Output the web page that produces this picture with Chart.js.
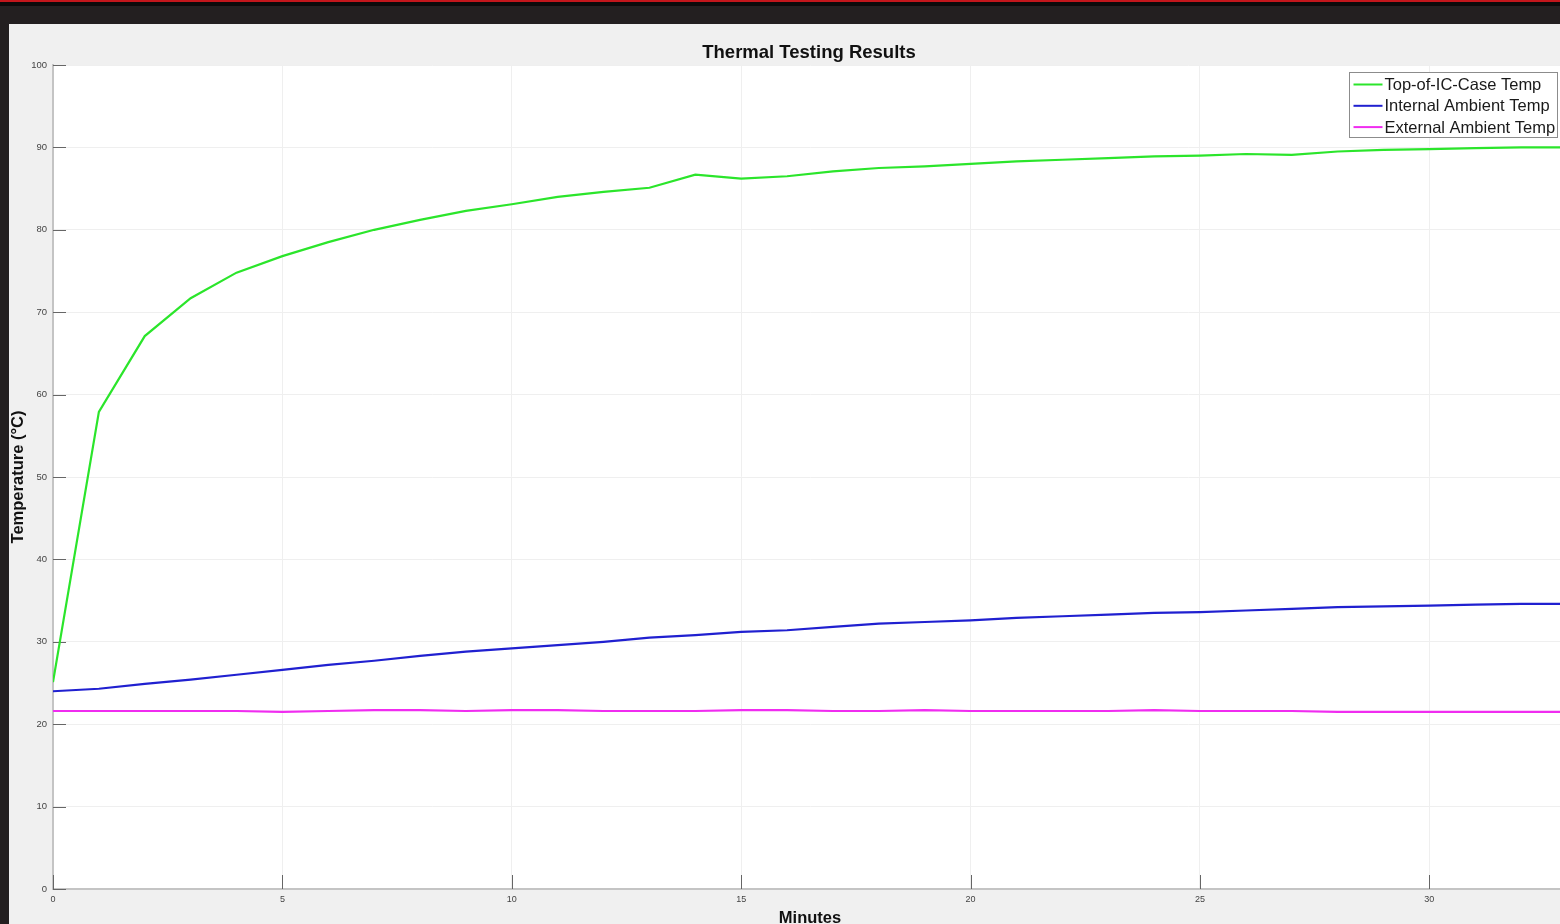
<!DOCTYPE html>
<html>
<head>
<meta charset="utf-8">
<title>Thermal Testing Results</title>
<script src="https://cdn.jsdelivr.net/npm/chart.js@4.4.1/dist/chart.umd.min.js"></script>
<style>
  html, body { margin: 0; padding: 0; width: 1560px; height: 924px; overflow: hidden; background: #231f20; }
  #topbar { position: absolute; left: 0; top: 0; width: 1560px; height: 2px; background: #c3161c; }
  #topdark { position: absolute; left: 0; top: 2px; width: 1560px; height: 4px; background: #0c0a0b; }
  #panel { position: absolute; left: 9px; top: 24px; width: 1560px; height: 906px; background: #f0f0f0; }
  #wrap { position: absolute; left: 9px; top: 24px; width: 1560px; height: 906px; }
  canvas { display: block; }
</style>
</head>
<body>
<div id="topbar"></div>
<div id="topdark"></div>
<div id="panel"></div>
<div id="wrap"><canvas id="chart" width="1560" height="906"></canvas></div>
<script>
// Elapsed time of each reading, in minutes
const minutes = [0, 1, 2, 3, 4, 5, 6, 7, 8, 9, 10, 11, 12, 13, 14, 15, 16,
  17, 18, 19, 20, 21, 22, 23, 24, 25, 26, 27, 28, 29, 30, 31, 32, 33];

// Temperatures in °C
const topCaseTemp = [25.1, 57.9, 67.1, 71.7, 74.8, 76.8, 78.5, 80.0, 81.2, 82.3,
  83.1, 84.0, 84.6, 85.1, 86.7, 86.2, 86.5, 87.1, 87.5, 87.7, 88.0, 88.3, 88.5,
  88.7, 88.9, 89.0, 89.2, 89.1, 89.5, 89.7, 89.8, 89.9, 90.0, 90.0];
const internalAmbientTemp = [24.0, 24.3, 24.9, 25.4, 26.0, 26.6, 27.2, 27.7, 28.3,
  28.8, 29.2, 29.6, 30.0, 30.5, 30.8, 31.2, 31.4, 31.8, 32.2, 32.4, 32.6, 32.9,
  33.1, 33.3, 33.5, 33.6, 33.8, 34.0, 34.2, 34.3, 34.4, 34.5, 34.6, 34.6];
const externalAmbientTemp = [21.6, 21.6, 21.6, 21.6, 21.6, 21.5, 21.6, 21.7, 21.7,
  21.6, 21.7, 21.7, 21.6, 21.6, 21.6, 21.7, 21.7, 21.6, 21.6, 21.7, 21.6, 21.6,
  21.6, 21.6, 21.7, 21.6, 21.6, 21.6, 21.5, 21.5, 21.5, 21.5, 21.5, 21.5];

const seriesLabels = ['Top-of-IC-Case Temp', 'Internal Ambient Temp', 'External Ambient Temp'];
const yTicks = [0, 10, 20, 30, 40, 50, 60, 70, 80, 90, 100];
const xTicks = [0, 5, 10, 15, 20, 25, 30];

const FONT = '"Liberation Sans", Arial, Helvetica, sans-serif';

function points(ys) {
  return minutes.map((m, i) => ({ x: m, y: ys[i] }));
}

// White plotting area on the grey figure panel
const plotBackground = {
  id: 'plotBackground',
  beforeDraw(chart) {
    const { ctx, chartArea } = chart;
    ctx.save();
    ctx.fillStyle = '#ffffff';
    ctx.fillRect(chartArea.left, chartArea.top, chartArea.right - chartArea.left + 10, chartArea.bottom - chartArea.top);
    ctx.restore();
  }
};

// Short inward tick marks along the left and bottom axes
const innerTicks = {
  id: 'innerTicks',
  beforeDatasetsDraw(chart) {
    const { ctx, chartArea, scales } = chart;
    ctx.save();
    ctx.strokeStyle = '#666';
    ctx.lineWidth = 1;
    ctx.beginPath();
    yTicks.forEach(v => {
      const y = Math.round(scales.y.getPixelForValue(v)) + 0.5;
      ctx.moveTo(chartArea.left, y);
      ctx.lineTo(chartArea.left + 13, y);
    });
    xTicks.forEach(v => {
      const x = Math.round(scales.x.getPixelForValue(v)) + 0.5;
      ctx.moveTo(x, chartArea.bottom);
      ctx.lineTo(x, chartArea.bottom - 14);
    });
    ctx.stroke();
    ctx.restore();
  }
};

// Plot title plus a boxed legend in the top-right corner
const decorations = {
  id: 'decorations',
  afterDraw(chart) {
    const { ctx } = chart;
    ctx.save();
    ctx.fillStyle = '#111';
    ctx.font = 'bold 18.5px ' + FONT;
    ctx.textAlign = 'center';
    ctx.textBaseline = 'middle';
    ctx.fillText('Thermal Testing Results', 800, 28.5);

    const bx = 1340.5, by = 48.5, bw = 208, bh = 65;
    ctx.fillStyle = '#ffffff';
    ctx.fillRect(bx, by, bw, bh);
    ctx.strokeStyle = '#8c8c8c';
    ctx.lineWidth = 1;
    ctx.strokeRect(bx, by, bw, bh);
    ctx.font = '16.5px ' + FONT;
    ctx.textAlign = 'left';
    chart.data.datasets.forEach((ds, i) => {
      const cy = by + 12 + i * 21.3;
      ctx.strokeStyle = ds.borderColor;
      ctx.lineWidth = 2;
      ctx.beginPath();
      ctx.moveTo(bx + 4, cy);
      ctx.lineTo(bx + 33, cy);
      ctx.stroke();
      ctx.fillStyle = '#1a1a1a';
      ctx.fillText(ds.label, bx + 35, cy + 1);
    });
    ctx.restore();
  }
};

new Chart(document.getElementById('chart'), {
  type: 'line',
  data: {
    datasets: [
      { label: seriesLabels[0], data: points(topCaseTemp), borderColor: '#2be52b' },
      { label: seriesLabels[1], data: points(internalAmbientTemp), borderColor: '#2020d0' },
      { label: seriesLabels[2], data: points(externalAmbientTemp), borderColor: '#f02cf0' }
    ].map(d => Object.assign(d, { borderWidth: 2.2, pointRadius: 0, tension: 0, fill: false }))
  },
  options: {
    responsive: false,
    animation: false,
    layout: { padding: { top: 41, left: 0, right: 2, bottom: 0 } },
    plugins: {
      legend: { display: false },
      title: { display: false },
      tooltip: { enabled: false }
    },
    scales: {
      x: {
        type: 'linear',
        min: 0,
        max: 33,
        afterBuildTicks(scale) { scale.ticks = xTicks.map(v => ({ value: v })); },
        afterFit(scale) { scale.height = 41; },
        grid: { color: '#efefef', lineWidth: 1, drawTicks: false },
        border: { color: '#c4c4c4', width: 2 },
        ticks: { padding: 5, color: '#444', font: { family: FONT, size: 9 }, maxRotation: 0 },
        title: {
          display: true, text: 'Minutes', color: '#111', padding: { top: 0, bottom: 2 },
          font: { family: FONT, size: 16.5, weight: 'bold' }
        }
      },
      y: {
        min: 0,
        max: 100,
        afterBuildTicks(scale) { scale.ticks = yTicks.map(v => ({ value: v })); },
        afterFit(scale) { scale.width = 44; },
        grid: { color: '#efefef', lineWidth: 1, drawTicks: false },
        border: { color: '#c4c4c4', width: 2 },
        ticks: { padding: 6, color: '#444', font: { family: FONT, size: 9.5 } },
        title: {
          display: true, text: 'Temperature (°C)', color: '#111', padding: { top: 0, bottom: 0 },
          font: { family: FONT, size: 16.5, weight: 'bold' }
        }
      }
    }
  },
  plugins: [plotBackground, innerTicks, decorations]
});
</script>
</body>
</html>
